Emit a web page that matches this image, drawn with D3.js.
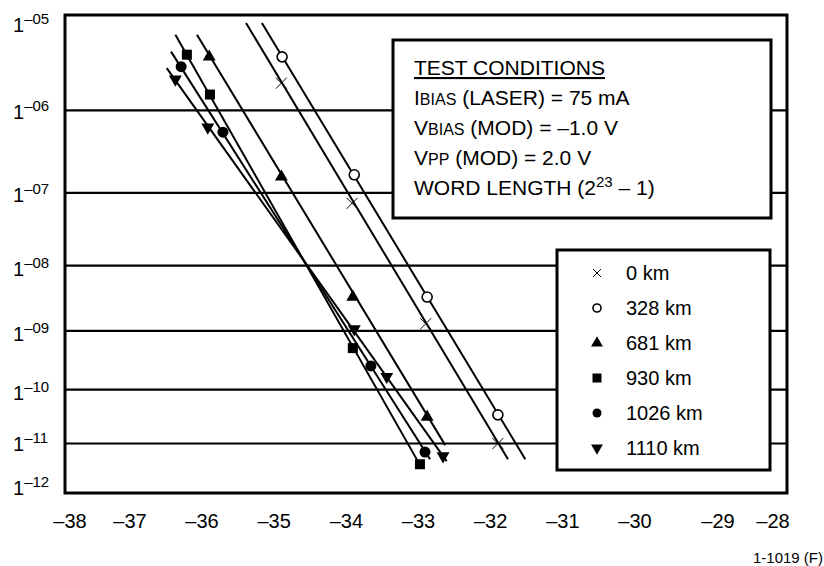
<!DOCTYPE html>
<html>
<head>
<meta charset="utf-8">
<script src="https://cdn.jsdelivr.net/npm/d3@7"></script>
<style>
  html, body { margin: 0; padding: 0; background: #fff; }
  svg { display: block; font-family: "Liberation Sans", Arial, Helvetica, sans-serif; }
</style>
</head>
<body>
<svg id="chart" width="824" height="566"></svg>
<script>
// ---------------- DATA ----------------
const seriesNames = ["0 km", "328 km", "681 km", "930 km", "1026 km", "1110 km"];
const seriesSymbols = ["cross", "circleOpen", "triangleUp", "square", "circle", "triangleDown"];

// received optical power (dBm) of measured points
const power0 = [-34.90, -33.92, -32.90, -31.90];
const power328 = [-34.89, -33.89, -32.88, -31.90];
const power681 = [-35.90, -34.90, -33.91, -32.88];
const power930 = [-36.21, -35.89, -33.91, -32.98];
const power1026 = [-36.29, -35.71, -33.66, -32.91];
const power1110 = [-36.37, -35.92, -33.89, -33.44, -32.66];

// bit error rate of measured points
const ber0 = [2.0e-6, 7.3e-8, 1.3e-9, 1.0e-11];
const ber328 = [3.8e-6, 1.7e-7, 3.4e-9, 3.5e-11];
const ber681 = [3.8e-6, 1.6e-7, 3.4e-9, 3.2e-11];
const ber930 = [4.0e-6, 1.5e-6, 5.2e-10, 3.9e-12];
const ber1026 = [3.0e-6, 5.6e-7, 2.6e-10, 6.8e-12];
const ber1110 = [2.2e-6, 6.4e-7, 1.07e-9, 1.7e-10, 5.7e-12];

// fitted straight lines: [start, end] power (dBm) and BER
const fitPower = [[-35.39, -31.76], [-35.17, -31.52], [-36.07, -32.63], [-36.37, -33.01], [-36.43, -32.84], [-36.49, -32.61]];
const fitBer = [[8.35e-6, 4.9e-12], [8.35e-6, 4.9e-12], [6.4e-6, 9.3e-12], [6.4e-6, 4.5e-12], [4.3e-6, 4.9e-12], [2.9e-6, 4.5e-12]];

// axis ticks
const xTicks = [-38, -37, -36, -35, -34, -33, -32, -31, -30, -29, -28];
const yTicks = [1e-5, 1e-6, 1e-7, 1e-8, 1e-9, 1e-10, 1e-11, 1e-12];
const yTickLabels = ["05", "06", "07", "08", "09", "10", "11", "12"];

const conditionsTitle = "TEST CONDITIONS";
const figureId = "1-1019 (F)";

// ---------------- LAYOUT ----------------
const svg = d3.select("#chart");
const plot = { left: 65, top: 15, right: 787, bottom: 493 };

// x: the printed tick labels are irregularly spaced at the ends
const xScale = d3.scaleLinear()
  .domain([-38, -37, -36, -30, -29, -28])
  .range([70, 130, 202, 635, 718, 773]);

// y: BER paper, log of (1 - log10(BER))
const yT = ber => 1 - Math.log10(ber);
const yScale = d3.scaleLog()
  .domain([yT(1e-5), yT(1e-12)])
  .range([plot.top, plot.bottom]);
const Y = ber => yScale(yT(ber));

const series = seriesNames.map((name, i) => ({
  name,
  symbol: seriesSymbols[i],
  power: [power0, power328, power681, power930, power1026, power1110][i],
  ber: [ber0, ber328, ber681, ber930, ber1026, ber1110][i],
  fitP: fitPower[i],
  fitB: fitBer[i]
}));

// gridlines
svg.append("g").selectAll("line").data(yTicks.slice(1, -1)).join("line")
  .attr("x1", plot.left).attr("x2", plot.right)
  .attr("y1", d => Y(d)).attr("y2", d => Y(d))
  .attr("stroke", "#000").attr("stroke-width", 2.2);

// fitted lines
const line = d3.line().x(d => xScale(d[0])).y(d => Y(d[1]));
svg.append("g").selectAll("path").data(series).join("path")
  .attr("d", s => line([[s.fitP[0], s.fitB[0]], [s.fitP[1], s.fitB[1]]]))
  .attr("fill", "none").attr("stroke", "#000").attr("stroke-width", 2);

// markers
function drawMarker(g, type, size) {
  const k = size;
  if (type === "cross") {
    g.append("path").attr("d", `M${-k/2},${-k/2}L${k/2},${k/2}M${-k/2},${k/2}L${k/2},${-k/2}`)
      .attr("stroke", "#000").attr("stroke-width", 1).attr("fill", "none");
  } else if (type === "circleOpen") {
    g.append("circle").attr("r", k / 2).attr("fill", "#fff").attr("stroke", "#000").attr("stroke-width", 1.6);
  } else if (type === "circle") {
    g.append("circle").attr("r", k / 2).attr("fill", "#000");
  } else if (type === "square") {
    g.append("rect").attr("x", -k/2).attr("y", -k/2).attr("width", k).attr("height", k).attr("fill", "#000");
  } else if (type === "triangleUp") {
    g.append("path").attr("d", d3.symbol(d3.symbolTriangle, k * k * 0.5)()).attr("fill", "#000");
  } else if (type === "triangleDown") {
    g.append("path").attr("d", d3.symbol(d3.symbolTriangle, k * k * 0.5)()).attr("transform", "rotate(180)").attr("fill", "#000");
  }
}
const markerSize = { cross: 11, circleOpen: 10, circle: 11, square: 10, triangleUp: 12, triangleDown: 12 };
series.forEach(s => {
  s.power.forEach((p, j) => {
    const g = svg.append("g").attr("transform", `translate(${xScale(p)},${Y(s.ber[j])})`);
    drawMarker(g, s.symbol, markerSize[s.symbol]);
  });
});

// plot frame
svg.append("rect")
  .attr("x", plot.left).attr("y", plot.top)
  .attr("width", plot.right - plot.left).attr("height", plot.bottom - plot.top)
  .attr("fill", "none").attr("stroke", "#000").attr("stroke-width", 3);

// x tick labels
svg.append("g").selectAll("text").data(xTicks).join("text")
  .attr("x", d => xScale(d)).attr("y", plot.bottom + 35)
  .attr("text-anchor", "middle").attr("font-size", 20)
  .text(d => "\u2013" + Math.abs(d));

// y tick labels ("1" with raised exponent)
const yLabelShift = [17, 9, 9, 10, 10, 10, 7, 2];
const yl = svg.append("g").selectAll("text").data(yTicks).join("text")
  .attr("x", 13).attr("y", (d, i) => Y(d) + yLabelShift[i])
  .attr("font-size", 20);
yl.append("tspan").text("1");
yl.append("tspan").attr("dy", -8).attr("font-size", 15).text((d, i) => "\u2013" + yTickLabels[i]);

// test-conditions box
const tb = { x: 393, y: 40, w: 378, h: 178 };
svg.append("rect").attr("x", tb.x).attr("y", tb.y).attr("width", tb.w).attr("height", tb.h)
  .attr("fill", "#fff").attr("stroke", "#000").attr("stroke-width", 3);
const tx = 414;
svg.append("text").attr("x", tx).attr("y", 75).attr("font-size", 21)
  .attr("text-decoration", "underline").text(conditionsTitle);
const condLines = [
  [["I", 21], ["BIAS", 16], [" (LASER) = 75 mA", 21]],
  [["V", 21], ["BIAS", 16], [" (MOD) = \u20131.0 V", 21]],
  [["V", 21], ["PP", 16], [" (MOD) = 2.0 V", 21]]
];
const condY = [105, 135, 165];
condLines.forEach((parts, i) => {
  const t = svg.append("text").attr("x", tx).attr("y", condY[i]).attr("font-size", 21);
  parts.forEach(p => t.append("tspan").attr("font-size", p[1]).text(p[0]));
});
const wl = svg.append("text").attr("x", tx).attr("y", 195).attr("font-size", 21);
wl.append("tspan").text("WORD LENGTH (2");
wl.append("tspan").attr("font-size", 15).attr("dy", -8).text("23");
wl.append("tspan").attr("dy", 8).text(" \u2013 1)");

// legend
const lg = { x: 557, y: 250, w: 213, h: 220 };
svg.append("rect").attr("x", lg.x).attr("y", lg.y).attr("width", lg.w).attr("height", lg.h)
  .attr("fill", "#fff").attr("stroke", "#000").attr("stroke-width", 3);
const legendMarkerSize = { cross: 8, circleOpen: 8, circle: 9, square: 9, triangleUp: 11, triangleDown: 11 };
series.forEach((s, i) => {
  const cy = 273 + i * 35;
  const g = svg.append("g").attr("transform", `translate(597,${cy})`);
  drawMarker(g, s.symbol, legendMarkerSize[s.symbol]);
  svg.append("text").attr("x", 626).attr("y", cy + 7).attr("font-size", 20).text(s.name);
});

// figure id
svg.append("text").attr("x", 753).attr("y", 563).attr("font-size", 15).text(figureId);
</script>
</body>
</html>
